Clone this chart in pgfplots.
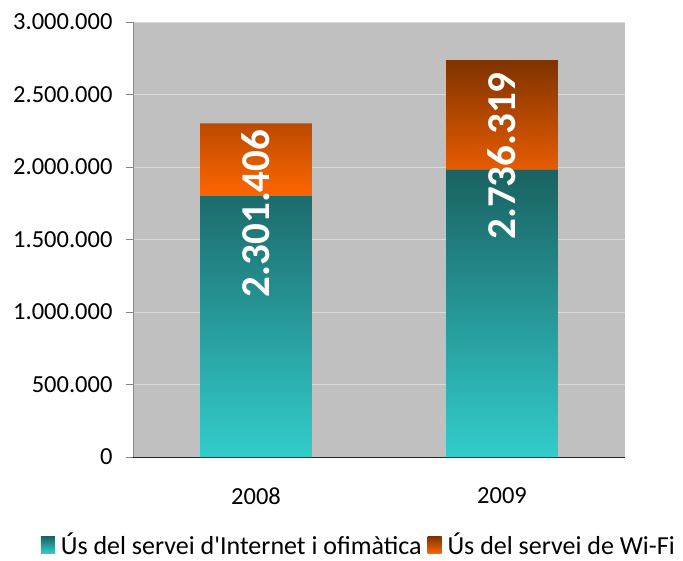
\documentclass[border=0pt]{standalone}
\usepackage{fontspec}
\setmainfont{Carlito}
\usepackage{pgfplots}
\pgfplotsset{compat=1.18}

\definecolor{bggray}{RGB}{192,192,192}
\definecolor{gridc}{RGB}{218,218,218}
\definecolor{tealtop}{RGB}{26,98,98}
\definecolor{tealmid}{RGB}{30,122,122}
\definecolor{tealbot}{RGB}{51,204,204}
\definecolor{orgtop}{RGB}{127,51,0}
\definecolor{orgbot}{RGB}{255,102,0}

\begin{document}
\begin{tikzpicture}[x=1pt,y=1pt]
  \path[use as bounding box] (-133,-103) rectangle (550,457);
  \begin{axis}[
      anchor=south west, at={(0,0)},
      scale only axis,
      width=492pt, height=435pt,
      ybar stacked,
      bar width=0.455,
      xmin=-0.5, xmax=1.5,
      ymin=0, ymax=3000000,
      ytick distance=500000,
      scaled y ticks=false,
      xtick={0,1},
      xticklabels={2008,2009},
      major x tick style={draw=none},
      extra x ticks={-0.5,0.5,1.5},
      extra x tick labels={},
      extra x tick style={grid=none, major tick length=11pt, tick style={draw=black!85, line width=0.9pt}, tick align=outside},
      tick align=outside,
      major tick length=7pt,
      ytick style={draw=black!50},
      axis x line*=bottom,
      axis y line*=left,
      x axis line style={-, draw=black!85, line width=0.9pt},
      y axis line style={-, draw=black!45},
      axis background/.style={fill=bggray},
      ymajorgrids,
      grid style={gridc, line width=0.7pt},
      font=\fontsize{24.5}{28}\selectfont,
      /pgf/number format/assume math mode=true,
      yticklabel style={xshift=-10pt, /pgf/number format/.cd, fixed, 1000 sep={.}},
      xticklabel style={yshift=-20pt},
      legend style={draw=none, fill=none, at={(axis description cs:0.459,-0.201)}, anchor=center,
        legend columns=2, column sep=4pt, inner sep=0pt, font=\fontsize{26}{28}\selectfont},
      legend image code/.code={\path[#1, draw=none] (0pt,-9pt) rectangle (14pt,8pt);},
      legend cell align=left,
    ]
    \addplot[draw=none, bottom color=tealbot, middle color=tealmid, top color=tealtop]
      coordinates {(0,1800000) (1,1980000)};
    \addlegendentry{Ús del servei d\textquotesingle Internet i ofimàtica}
    \addplot[draw=none, bottom color=orgbot, top color=orgtop]
      coordinates {(0,501406) (1,756319)};
    \addlegendentry{Ús del servei de Wi-Fi}
    \coordinate (lab08) at (axis cs:0,1680000);
    \coordinate (lab09) at (axis cs:1,2076000);
  \end{axis}
  \node[rotate=90, anchor=center, inner sep=0pt, text=white, font=\bfseries\fontsize{41}{41}\selectfont]
    at (lab08) {2.301.406};
  \node[rotate=90, anchor=center, inner sep=0pt, text=white, font=\bfseries\fontsize{41}{41}\selectfont]
    at (lab09) {2.736.319};
\end{tikzpicture}
\end{document}
